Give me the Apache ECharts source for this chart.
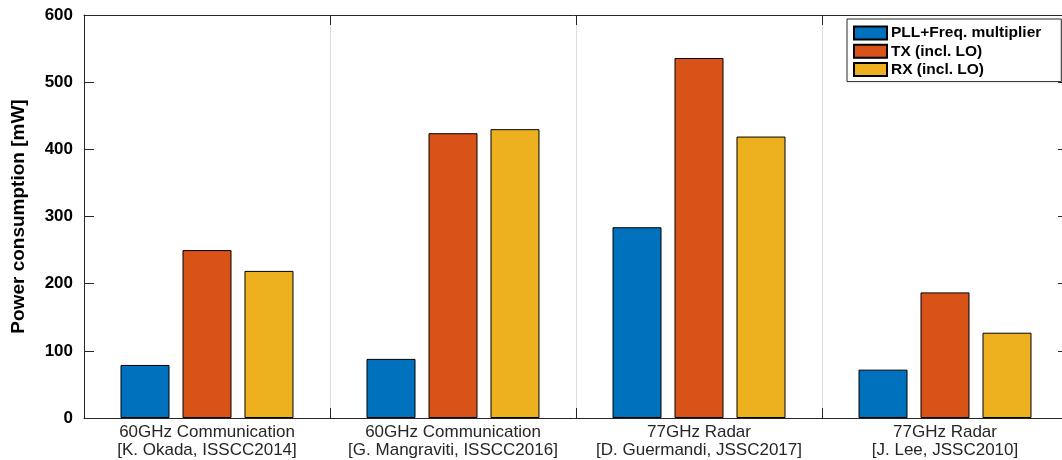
<!DOCTYPE html>
<html>
<head>
<meta charset="utf-8">
<script src="https://cdn.jsdelivr.net/npm/echarts@6/dist/echarts.min.js"></script>
<style>
html,body{margin:0;padding:0;background:#fff;}
#chart{width:1062px;height:460px;}
</style>
</head>
<body>
<div id="chart"></div>
<script>
var categories = [
  '60GHz Communication\n[K. Okada, ISSCC2014]',
  '60GHz Communication\n[G. Mangraviti, ISSCC2016]',
  '77GHz Radar\n[D. Guermandi, JSSC2017]',
  '77GHz Radar\n[J. Lee, JSSC2010]'
];
var seriesNames = ['PLL+Freq. multiplier', 'TX (incl. LO)', 'RX (incl. LO)'];
var pllValues = [79, 88, 284, 72];
var txValues = [250, 424, 536, 187];
var rxValues = [219, 430, 419, 127];
var yTicks = [0, 100, 200, 300, 400, 500, 600];

var FONT = "'Liberation Sans', Arial, Helvetica, sans-serif";
var AX = '#262626';
var colors = ['#0072BD', '#D95319', '#EDB120'];
var values = [pllValues, txValues, rxValues];

var chart = echarts.init(document.getElementById('chart'), null, {renderer: 'canvas'});

var series = seriesNames.map(function (n, i) {
  return {
    name: n,
    type: 'bar',
    data: values[i],
    xAxisIndex: 0,
    yAxisIndex: 0,
    barWidth: 49,
    barGap: '26.5%',
    itemStyle: {color: colors[i], borderColor: '#000', borderWidth: 1},
    emphasis: {disabled: true},
    animation: false
  };
});

chart.setOption({
  animation: false,
  backgroundColor: '#fff',
  grid: {left: 84, width: 984, top: 15, height: 403, containLabel: false, outerBoundsMode: 'none'},
  legend: {
    orient: 'vertical',
    left: 847,
    top: 19,
    data: seriesNames,
    itemWidth: 33,
    itemHeight: 13,
    itemGap: 2.3,
    padding: [6, 20, 4, 6],
    backgroundColor: '#fff',
    borderColor: AX,
    borderWidth: 1,
    borderRadius: 0,
    icon: 'rect',
    textStyle: {fontFamily: FONT, fontWeight: 'bold', fontSize: 15.5, color: '#000', lineHeight: 16, padding: [0, 0, 0, -1]},
    selectedMode: false
  },
  xAxis: [
    {
      type: 'category',
      data: categories,
      position: 'bottom',
      boundaryGap: true,
      axisLine: {onZero: false, lineStyle: {color: AX, width: 1}},
      axisTick: {show: true, inside: true, length: 10, lineStyle: {color: AX}},
      axisLabel: {fontFamily: FONT, fontSize: 17, color: AX, lineHeight: 18, margin: 5, interval: 0},
      splitLine: {show: true, lineStyle: {color: '#dedede', width: 1}}
    },
    {
      type: 'category',
      data: categories,
      position: 'top',
      boundaryGap: true,
      axisLine: {onZero: false, lineStyle: {color: AX, width: 1}},
      axisTick: {show: true, inside: true, length: 10, lineStyle: {color: AX}},
      axisLabel: {show: false},
      splitLine: {show: false}
    }
  ],
  yAxis: [
    {
      type: 'value',
      min: 0,
      max: 600,
      interval: 100,
      position: 'left',
      name: 'Power consumption [mW]',
      nameLocation: 'middle',
      nameGap: 56,
      nameTextStyle: {fontFamily: FONT, fontWeight: 'bold', fontSize: 19, color: '#000'},
      axisLine: {show: true, onZero: false, lineStyle: {color: AX, width: 1}},
      axisTick: {show: true, inside: true, length: 10, lineStyle: {color: AX}},
      axisLabel: {
        fontFamily: FONT, fontWeight: 'bold', fontSize: 17, color: '#000', margin: 11,
        formatter: function (v) { return yTicks.indexOf(v) >= 0 ? String(v) : ''; }
      },
      splitLine: {show: false}
    },
    {
      type: 'value',
      min: 0,
      max: 600,
      interval: 100,
      position: 'right',
      axisLine: {show: true, onZero: false, lineStyle: {color: AX, width: 1}},
      axisTick: {show: true, inside: true, length: 10, lineStyle: {color: AX}},
      axisLabel: {show: false},
      splitLine: {show: false}
    }
  ],
  series: series
});
</script>
</body>
</html>
